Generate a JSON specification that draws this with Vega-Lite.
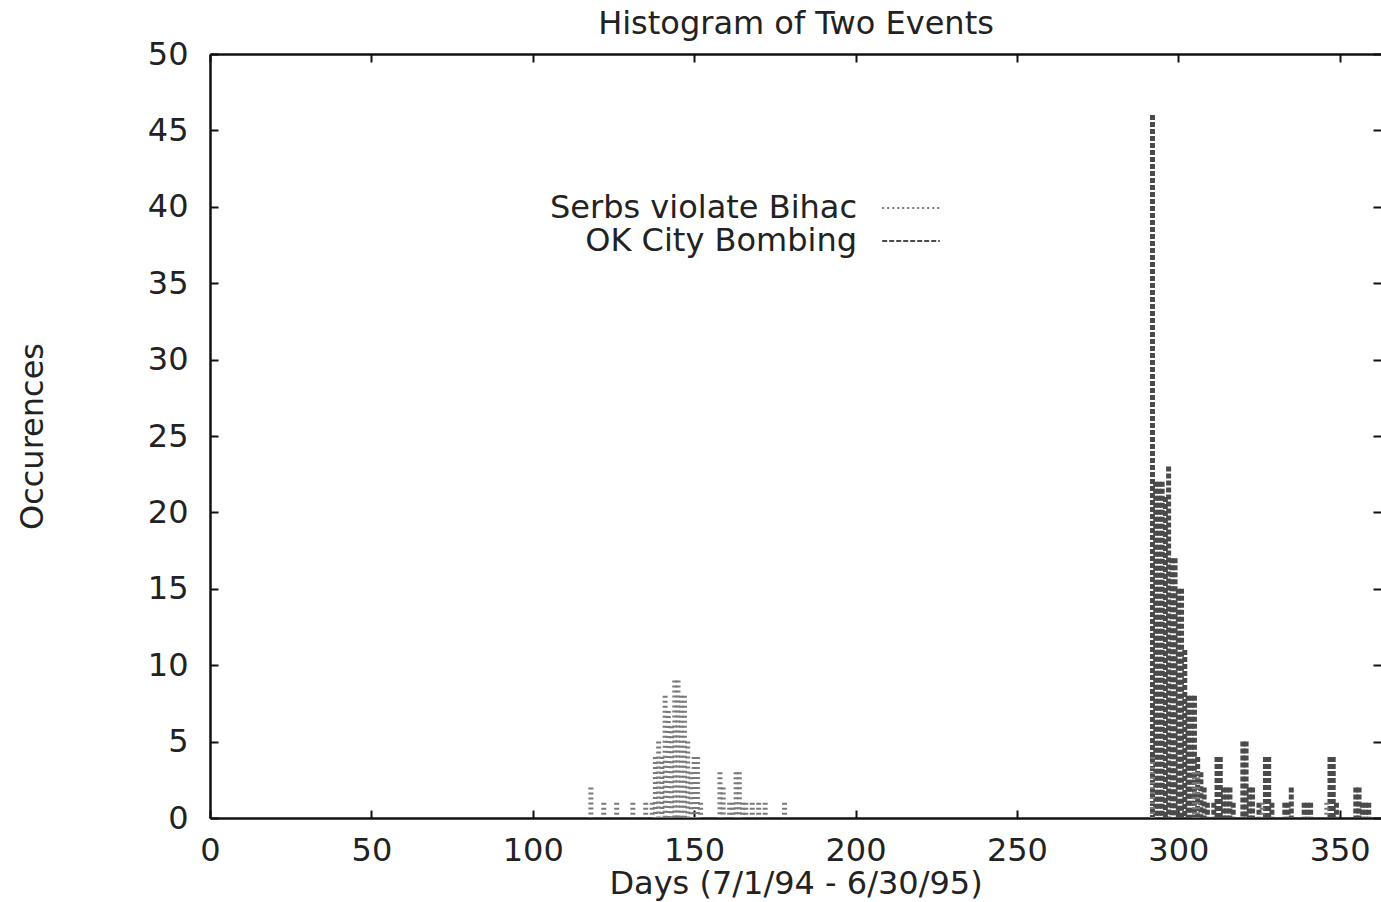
{
  "$schema": "https://vega.github.io/schema/vega-lite/v6.json",
  "width": 1171,
  "height": 764,
  "autosize": "none",
  "padding": {"left": 210, "top": 54, "right": 0, "bottom": 84},
  "background": "white",
  "config": {
    "view": {"stroke": null},
    "font": "DejaVu Sans",
    "axis": {
      "grid": false,
      "domainColor": "#111",
      "domainWidth": 2.5,
      "tickColor": "#111",
      "tickWidth": 2,
      "labelFont": "DejaVu Sans",
      "labelFontSize": 32,
      "labelColor": "#222",
      "titleFont": "DejaVu Sans",
      "titleFontSize": 32,
      "titleFontWeight": "normal",
      "titleColor": "#222",
      "labelFlush": false
    }
  },
  "data": {
    "values": [
      {"day": 118, "count": 2, "event": "Serbs violate Bihac"},
      {"day": 122, "count": 1, "event": "Serbs violate Bihac"},
      {"day": 126, "count": 1, "event": "Serbs violate Bihac"},
      {"day": 131, "count": 1, "event": "Serbs violate Bihac"},
      {"day": 135, "count": 1, "event": "Serbs violate Bihac"},
      {"day": 137, "count": 1, "event": "Serbs violate Bihac"},
      {"day": 138, "count": 4, "event": "Serbs violate Bihac"},
      {"day": 139, "count": 5, "event": "Serbs violate Bihac"},
      {"day": 140, "count": 4, "event": "Serbs violate Bihac"},
      {"day": 141, "count": 8, "event": "Serbs violate Bihac"},
      {"day": 142, "count": 7, "event": "Serbs violate Bihac"},
      {"day": 143, "count": 6, "event": "Serbs violate Bihac"},
      {"day": 144, "count": 9, "event": "Serbs violate Bihac"},
      {"day": 145, "count": 9, "event": "Serbs violate Bihac"},
      {"day": 146, "count": 8, "event": "Serbs violate Bihac"},
      {"day": 147, "count": 8, "event": "Serbs violate Bihac"},
      {"day": 148, "count": 5, "event": "Serbs violate Bihac"},
      {"day": 149, "count": 3, "event": "Serbs violate Bihac"},
      {"day": 150, "count": 4, "event": "Serbs violate Bihac"},
      {"day": 151, "count": 4, "event": "Serbs violate Bihac"},
      {"day": 152, "count": 1, "event": "Serbs violate Bihac"},
      {"day": 158, "count": 3, "event": "Serbs violate Bihac"},
      {"day": 159, "count": 2, "event": "Serbs violate Bihac"},
      {"day": 161, "count": 1, "event": "Serbs violate Bihac"},
      {"day": 162, "count": 1, "event": "Serbs violate Bihac"},
      {"day": 163, "count": 3, "event": "Serbs violate Bihac"},
      {"day": 164, "count": 3, "event": "Serbs violate Bihac"},
      {"day": 165, "count": 1, "event": "Serbs violate Bihac"},
      {"day": 166, "count": 1, "event": "Serbs violate Bihac"},
      {"day": 168, "count": 1, "event": "Serbs violate Bihac"},
      {"day": 170, "count": 1, "event": "Serbs violate Bihac"},
      {"day": 172, "count": 1, "event": "Serbs violate Bihac"},
      {"day": 178, "count": 1, "event": "Serbs violate Bihac"},
      {"day": 292, "count": 46, "event": "OK City Bombing"},
      {"day": 293, "count": 22, "event": "OK City Bombing"},
      {"day": 294, "count": 22, "event": "OK City Bombing"},
      {"day": 295, "count": 22, "event": "OK City Bombing"},
      {"day": 296, "count": 21, "event": "OK City Bombing"},
      {"day": 297, "count": 23, "event": "OK City Bombing"},
      {"day": 298, "count": 17, "event": "OK City Bombing"},
      {"day": 299, "count": 17, "event": "OK City Bombing"},
      {"day": 300, "count": 15, "event": "OK City Bombing"},
      {"day": 301, "count": 15, "event": "OK City Bombing"},
      {"day": 302, "count": 11, "event": "OK City Bombing"},
      {"day": 303, "count": 8, "event": "OK City Bombing"},
      {"day": 304, "count": 8, "event": "OK City Bombing"},
      {"day": 305, "count": 8, "event": "OK City Bombing"},
      {"day": 306, "count": 4, "event": "OK City Bombing"},
      {"day": 307, "count": 3, "event": "OK City Bombing"},
      {"day": 308, "count": 2, "event": "OK City Bombing"},
      {"day": 309, "count": 1, "event": "OK City Bombing"},
      {"day": 311, "count": 1, "event": "OK City Bombing"},
      {"day": 312, "count": 4, "event": "OK City Bombing"},
      {"day": 313, "count": 4, "event": "OK City Bombing"},
      {"day": 314, "count": 2, "event": "OK City Bombing"},
      {"day": 315, "count": 2, "event": "OK City Bombing"},
      {"day": 316, "count": 2, "event": "OK City Bombing"},
      {"day": 317, "count": 1, "event": "OK City Bombing"},
      {"day": 320, "count": 5, "event": "OK City Bombing"},
      {"day": 321, "count": 5, "event": "OK City Bombing"},
      {"day": 322, "count": 2, "event": "OK City Bombing"},
      {"day": 323, "count": 2, "event": "OK City Bombing"},
      {"day": 325, "count": 1, "event": "OK City Bombing"},
      {"day": 327, "count": 4, "event": "OK City Bombing"},
      {"day": 328, "count": 4, "event": "OK City Bombing"},
      {"day": 329, "count": 1, "event": "OK City Bombing"},
      {"day": 333, "count": 1, "event": "OK City Bombing"},
      {"day": 334, "count": 1, "event": "OK City Bombing"},
      {"day": 335, "count": 2, "event": "OK City Bombing"},
      {"day": 339, "count": 1, "event": "OK City Bombing"},
      {"day": 340, "count": 1, "event": "OK City Bombing"},
      {"day": 341, "count": 1, "event": "OK City Bombing"},
      {"day": 347, "count": 4, "event": "OK City Bombing"},
      {"day": 348, "count": 4, "event": "OK City Bombing"},
      {"day": 349, "count": 1, "event": "OK City Bombing"},
      {"day": 355, "count": 2, "event": "OK City Bombing"},
      {"day": 356, "count": 2, "event": "OK City Bombing"},
      {"day": 357, "count": 1, "event": "OK City Bombing"},
      {"day": 358, "count": 1, "event": "OK City Bombing"},
      {"day": 359, "count": 1, "event": "OK City Bombing"},
      {"day": 292, "count": 4, "event": "Serbs violate Bihac"},
      {"day": 305, "count": 3, "event": "Serbs violate Bihac"},
      {"day": 306, "count": 3, "event": "Serbs violate Bihac"},
      {"day": 326, "count": 1, "event": "Serbs violate Bihac"},
      {"day": 346, "count": 1, "event": "Serbs violate Bihac"}
    ]
  },
  "layer": [
    {
      "mark": {"type": "rule", "strokeWidth": 5},
      "encoding": {
        "x": {
          "field": "day",
          "type": "quantitative",
          "scale": {"domain": [0, 362.8], "nice": false, "zero": false},
          "axis": {
            "orient": "bottom",
            "values": [0, 50, 100, 150, 200, 250, 300, 350],
            "tickSize": -8,
            "labelPadding": 25,
            "title": "Days (7/1/94 - 6/30/95)",
            "titleBaseline": "alphabetic",
            "titleY": 75
          }
        },
        "y": {
          "field": "count",
          "type": "quantitative",
          "scale": {"domain": [0, 50], "nice": false},
          "axis": {
            "orient": "left",
            "values": [0, 5, 10, 15, 20, 25, 30, 35, 40, 45, 50],
            "tickSize": -8,
            "labelPadding": 30,
            "title": "Occurences",
            "titleBaseline": "alphabetic",
            "titleX": -168,
            "titleY": 382
          }
        },
        "y2": {"datum": 0},
        "color": {
          "field": "event",
          "type": "nominal",
          "scale": {"domain": ["Serbs violate Bihac", "OK City Bombing"], "range": ["#7a7a7a", "#4a4a4a"]},
          "legend": {
            "title": null,
            "orient": "none",
            "legendX": 684,
            "legendY": 137,
            "symbolType": "M-1.8,0H1.8",
            "symbolSize": 1024,
            "symbolStrokeWidth": 2,
            "labelAlign": "right",
            "labelOffset": -71,
            "labelFont": "DejaVu Sans",
            "labelFontSize": 32,
            "labelColor": "#222",
            "labelLimit": 0,
            "rowPadding": 0
          }
        },
        "strokeDash": {
          "field": "event",
          "type": "nominal",
          "scale": {"domain": ["Serbs violate Bihac", "OK City Bombing"], "range": [[2, 3], [5, 2]]}
        }
      }
    },
    {
      "mark": {"type": "rule", "opacity": 0},
      "encoding": {
        "x": {
          "field": "day",
          "type": "quantitative",
          "axis": {
            "orient": "top",
            "values": [0, 50, 100, 150, 200, 250, 300, 350],
            "tickSize": -8,
            "labels": false,
            "title": "Histogram of Two Events",
            "titleBaseline": "alphabetic",
            "titleY": -21
          }
        },
        "y": {
          "field": "count",
          "type": "quantitative",
          "axis": {
            "orient": "right",
            "values": [0, 5, 10, 15, 20, 25, 30, 35, 40, 45, 50],
            "tickSize": -8,
            "labels": false,
            "domain": false,
            "title": null
          }
        }
      }
    }
  ],
  "resolve": {"axis": {"x": "independent", "y": "independent"}}
}
